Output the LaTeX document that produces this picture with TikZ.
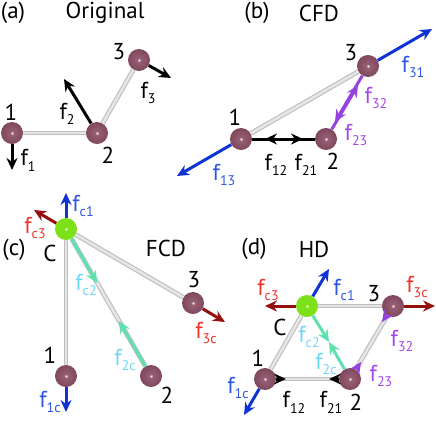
\documentclass[tikz,border=0pt]{standalone}
\usepackage{fontspec}
\setmainfont{PT Sans}
\usetikzlibrary{arrows.meta}
\definecolor{frcblue}{RGB}{15,50,215}
\definecolor{frcred}{RGB}{150,15,15}
\definecolor{frcteal}{RGB}{95,225,175}
\definecolor{frcpurple}{RGB}{150,65,225}
\definecolor{txtblue}{RGB}{45,85,225}
\definecolor{txtred}{RGB}{240,50,40}
\definecolor{txtcyan}{RGB}{110,215,245}
\definecolor{txtpurple}{RGB}{165,70,235}
\definecolor{atmmid}{RGB}{122,66,86}
\definecolor{atmedge}{RGB}{85,50,62}
\definecolor{atmhigh}{RGB}{150,95,115}
\definecolor{cenmid}{RGB}{125,225,25}
\definecolor{cenedge}{RGB}{90,175,30}
\pgfdeclareradialshading{atomball}{\pgfpoint{0bp}{0bp}}{color(0bp)=(white); color(4bp)=(atmhigh); color(30bp)=(atmmid); color(50bp)=(atmedge)}
\pgfdeclareradialshading{cenball}{\pgfpoint{0bp}{0bp}}{color(0bp)=(white); color(4bp)=(cenmid); color(35bp)=(cenmid); color(50bp)=(cenedge)}
\newcommand{\flab}[2]{#1\raisebox{-0.5ex}{\fontsize{14}{14}\selectfont #2}}
\tikzset{atm/.style={circle, inner sep=0pt, minimum size=22pt, shading=atomball},
  cen/.style={circle, inner sep=0pt, minimum size=22pt, shading=cenball},
  bond/.style={draw=black!25, line width=1.1pt, double=black!10, double distance=2.6pt},
  frc/.style={line width=3pt, -{Stealth[length=12pt, width=11pt]}},
  txt/.style={font=\fontsize{23}{23}\selectfont, inner sep=0pt}}

\begin{document}
\begin{tikzpicture}[x=1pt, y=-1pt]
  \useasboundingbox (0,0) rectangle (436,421);
  % (a) original
  \node[txt] (ta) at (13,13) {(a)};
  \node[txt] (tao) at (105,13) {Original};
  \node[atm] (a1) at (12,133) {};
  \node[atm] (a2) at (97,133) {};
  \node[atm] (a3) at (139,60) {};
  \draw[bond] (a1) -- (a2);
  \draw[bond] (a2) -- (a3);
  \coordinate (ef1) at (12,170);
  \coordinate (ef2) at (64,79);
  \coordinate (ef3) at (171,78);
  \draw[frc] (a1) -- (ef1);
  \draw[frc] (a2) -- (ef2);
  \draw[frc] (a3) -- (ef3);
  \node[txt] (la1) at (11,112) {1};
  \node[txt] (la2) at (108,155) {2};
  \node[txt] (la3) at (119,52) {3};
  \node[txt] (lf1) at (28,160) {\flab{f}{1}};
  \node[txt] (lf2) at (67,114) {\flab{f}{2}};
  \node[txt] (lf3) at (148,93) {\flab{f}{3}};
  % (b) CFD
  \node[txt] (tb) at (257,13) {(b)};
  \node[txt] (tbc) at (319,13) {CFD};
  \node[atm] (b1) at (241,139) {};
  \node[atm] (b2) at (326,139) {};
  \node[atm] (b3) at (368,66) {};
  \draw[bond] (b1) -- (b3);
  \coordinate (eb13) at (177,176);
  \coordinate (eb31) at (432,29);
  \coordinate (eb12) at (265,139);
  \coordinate (eb21) at (303,139);
  \coordinate (eb32) at (358,85);
  \coordinate (eb23) at (335,122);
  \draw[frc, frcblue] (b1) -- (eb13);
  \draw[frc, frcblue] (b3) -- (eb31);
  \draw[frc] (b2) -- (eb12);
  \draw[frc] (b1) -- (eb21);
  \draw[frc, frcpurple] (b2) -- (eb32);
  \draw[frc, frcpurple] (b3) -- (eb23);
  \node[txt] (lb1) at (235,117) {1};
  \node[txt] (lb2) at (333,161) {2};
  \node[txt] (lb3) at (351,53) {3};
  \node[txt, txtblue] (lf13) at (224,175) {\flab{f}{13}};
  \node[txt, txtblue] (lf31) at (413,67) {\flab{f}{31}};
  \node[txt] (lf12) at (276,165) {\flab{f}{12}};
  \node[txt] (lf21) at (306,165) {\flab{f}{21}};
  \node[txt, txtpurple] (lf32) at (376,98) {\flab{f}{32}};
  \node[txt, txtpurple] (lf23) at (356,135) {\flab{f}{23}};
  % (c) FCD
  \node[txt] (tc) at (14,250) {(c)};
  \node[txt] (tcc) at (50,253) {C};
  \node[txt] (tcf) at (166,248) {FCD};
  \node[cen] (cc) at (66,229) {};
  \node[atm] (c1) at (66,376) {};
  \node[atm] (c2) at (151,376) {};
  \node[atm] (c3) at (193,303) {};
  \draw[bond] (cc) -- (c1);
  \draw[bond] (cc) -- (c2);
  \draw[bond] (cc) -- (c3);
  \coordinate (ecc1) at (66,193);
  \coordinate (ecc3) at (34,210);
  \coordinate (ec3c) at (225,322);
  \coordinate (ec1c) at (66,412);
  \coordinate (ecc2) at (97,283);
  \coordinate (ec2c) at (119,321);
  \draw[frc, frcblue] (cc) -- (ecc1);
  \draw[frc, frcred] (cc) -- (ecc3);
  \draw[frc, frcred] (c3) -- (ec3c);
  \draw[frc, frcblue] (c1) -- (ec1c);
  \draw[frc, frcteal] (cc) -- (ecc2);
  \draw[frc, frcteal] (c2) -- (ec2c);
  \node[txt] (lc1) at (50,355) {1};
  \node[txt] (lc2) at (167,395) {2};
  \node[txt] (lc3) at (194,280) {3};
  \node[txt, txtblue] (lfc1) at (83,206) {\flab{f}{c1}};
  \node[txt, txtred] (lfc3) at (35,228) {\flab{f}{c3}};
  \node[txt, txtcyan] (lfc2) at (86,285) {\flab{f}{c2}};
  \node[txt, txtcyan] (lf2c) at (125,360) {\flab{f}{2c}};
  \node[txt, txtred] (lf3c) at (206,333) {\flab{f}{3c}};
  \node[txt, txtblue] (lf1c) at (50,402) {\flab{f}{1c}};
  % (d) HD
  \node[txt] (td) at (254,249) {(d)};
  \node[txt] (tdh) at (314,249) {HD};
  \node[cen] (dc) at (307,306) {};
  \node[atm] (d1) at (265,379) {};
  \node[atm] (d2) at (350,379) {};
  \node[atm] (d3) at (393,306) {};
  \draw[bond] (dc) -- (d1);
  \draw[bond] (dc) -- (d3);
  \draw[bond] (d1) -- (d2);
  \draw[bond] (d2) -- (d3);
  \coordinate (edc1) at (329,269);
  \coordinate (edc3) at (265,306);
  \coordinate (ed3c) at (435,306);
  \coordinate (ed1c) at (244,415);
  \coordinate (edc2) at (329,342);
  \coordinate (ed2c) at (329,342);
  \coordinate (ed12) at (286,379);
  \coordinate (ed21) at (329,379);
  \coordinate (ed32) at (382,322);
  \coordinate (ed23) at (361,362);
  \draw[frc, frcblue] (dc) -- (edc1);
  \draw[frc, frcred] (dc) -- (edc3);
  \draw[frc, frcred] (d3) -- (ed3c);
  \draw[frc, frcblue] (d1) -- (ed1c);
  \draw[frc, frcteal] (dc) -- (edc2);
  \draw[frc, frcteal] (d2) -- (ed2c);
  \draw[frc] (d1) -- (ed12);
  \draw[frc] (d2) -- (ed21);
  \draw[frc, frcpurple] (d3) -- (ed32);
  \draw[frc, frcpurple] (d2) -- (ed23);
  \node[txt] (ldc) at (280,327) {C};
  \node[txt] (ld1) at (258,358) {1};
  \node[txt] (ld2) at (356,402) {2};
  \node[txt] (ld3) at (374,294) {3};
  \node[txt, txtblue] (lfc1d) at (344,290) {\flab{f}{c1}};
  \node[txt, txtred] (lfc3d) at (268,290) {\flab{f}{c3}};
  \node[txt, txtred] (lf3cd) at (417,287) {\flab{f}{3c}};
  \node[txt, txtcyan] (lfc2d) at (309,337) {\flab{f}{c2}};
  \node[txt, txtcyan] (lf2cd) at (326,364) {\flab{f}{2c}};
  \node[txt, txtblue] (lf1cd) at (238,388) {\flab{f}{1c}};
  \node[txt] (lf12d) at (294,402) {\flab{f}{12}};
  \node[txt] (lf21d) at (331,402) {\flab{f}{21}};
  \node[txt, txtpurple] (lf32d) at (402,341) {\flab{f}{32}};
  \node[txt, txtpurple] (lf23d) at (381,376) {\flab{f}{23}};
\end{tikzpicture}
\end{document}
